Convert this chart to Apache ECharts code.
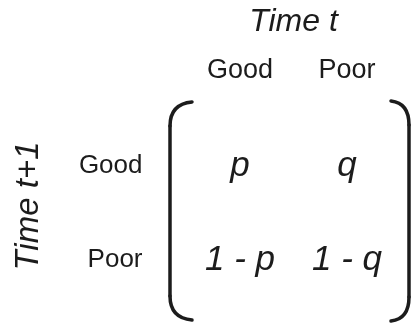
<!DOCTYPE html>
<html>
<head>
<meta charset="utf-8">
<script src="https://cdn.jsdelivr.net/npm/echarts@6/dist/echarts.min.js"></script>
<style>
  html, body { margin: 0; padding: 0; background: #fff; }
  #matrix { width: 412px; height: 324px; }
</style>
</head>
<body>
<div id="matrix"></div>
<script>
var colStates = ['Good', 'Poor'];
var rowStates = ['Good', 'Poor'];
var cellText = [
  ['p', 'q'],
  ['1 - p', '1 - q']
];
var colTitle = 'Time t';
var rowTitle = 'Time t+1';

var FONT = '"Liberation Sans", Arial, Helvetica, sans-serif';
var INK = '#1c1c1c';

// one bracket = top curve, straight side, bottom curve
function bracket(xEnd, xSide, yTop, yBot){
  var st = { fill: 'none', stroke: INK, lineWidth: 3.5, lineCap: 'round' };
  return [
    { type: 'bezierCurve', shape: { x1: xEnd, y1: yTop, cpx1: xSide, cpy1: yTop + 2, x2: xSide, y2: yTop + 24 }, style: st },
    { type: 'line', shape: { x1: xSide, y1: yTop + 24, x2: xSide, y2: yBot - 24 }, style: st },
    { type: 'bezierCurve', shape: { x1: xSide, y1: yBot - 24, cpx1: xSide, cpy1: yBot - 2, x2: xEnd, y2: yBot }, style: st }
  ];
}

function matrixChart(){
  var chartDom = document.getElementById('matrix');
  var myChart = echarts.init(chartDom);

  var cells = [];
  rowStates.forEach(function(r, i){
    colStates.forEach(function(c, j){
      cells.push([c, r, cellText[i][j]]);
    });
  });

  option = {
    animation: false,
    grid: { left: 186.5, right: 11.5, top: 119, bottom: 17 },
    xAxis: {
      type: 'category',
      position: 'top',
      data: colStates,
      name: colTitle,
      nameLocation: 'middle',
      nameGap: 97,
      nameTextStyle: { fontFamily: FONT, fontSize: 32, fontStyle: 'italic', color: INK, verticalAlign: 'middle' },
      axisLine: { show: false },
      axisTick: { show: false },
      splitLine: { show: false },
      axisLabel: { fontFamily: FONT, fontSize: 27, color: INK, margin: 35 }
    },
    yAxis: {
      type: 'category',
      inverse: true,
      data: rowStates,
      name: rowTitle,
      nameLocation: 'middle',
      nameRotate: 90,
      nameGap: 158,
      nameTextStyle: { fontFamily: FONT, fontSize: 33, fontStyle: 'italic', color: INK, verticalAlign: 'middle', padding: [0, 0, 0, 14] },
      axisLine: { show: false },
      axisTick: { show: false },
      splitLine: { show: false },
      axisLabel: { fontFamily: FONT, fontSize: 26, color: INK, margin: 44 }
    },
    graphic: bracket(192, 170, 102, 320).concat(bracket(391, 409, 101, 321)),
    series: [
      {
        type: 'scatter',
        symbolSize: 0,
        itemStyle: { opacity: 1 },
        data: cells,
        label: {
          show: true,
          position: 'inside',
          formatter: function(p){ return p.value[2]; },
          fontFamily: FONT,
          fontSize: 35,
          fontStyle: 'italic',
          color: INK,
          opacity: 1
        }
      }
    ]
  };

  option && myChart.setOption(option);
}

window.onload = function(e){
  matrixChart();
}
</script>
</body>
</html>
